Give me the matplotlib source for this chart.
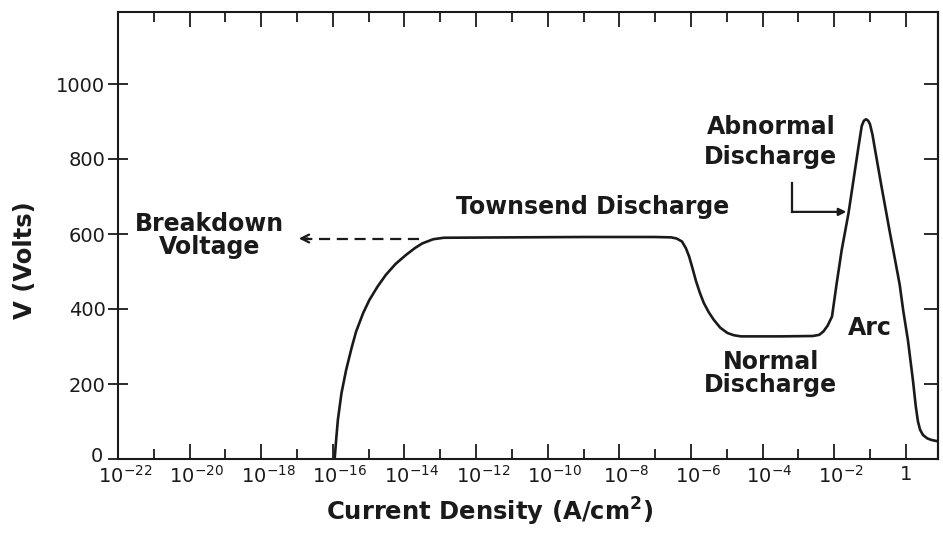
import matplotlib
matplotlib.use("Agg")
import matplotlib.pyplot as plt
import matplotlib.transforms as mtransforms
from matplotlib.ticker import FixedLocator, NullFormatter
import numpy as np

# curve: log10 of current density and voltage
log_j = [-15.95, -15.90, -15.86, -15.76, -15.63, -15.48, -15.35, -15.15, -14.98,
         -14.75, -14.52, -14.25, -13.96, -13.70, -13.50, -13.20, -12.90,
         -11.0, -9.0, -7.0, -6.55, -6.40, -6.25, -6.14, -6.05, -5.96, -5.86,
         -5.75, -5.64, -5.50, -5.36, -5.18, -4.98, -4.80, -4.60,
         -3.5, -2.6, -2.42, -2.30, -2.18, -2.06, -1.93, -1.79, -1.60, -1.46,
         -1.32, -1.23, -1.17, -1.11, -1.05, -1.00, -0.93, -0.86, -0.68, -0.44,
         -0.35, -0.17, -0.07, 0.06, 0.20, 0.28, 0.34, 0.40, 0.48, 0.60, 0.71, 0.90]
volts = [0, 60, 104, 175, 237, 295, 340, 390, 424,
         460, 491, 520, 544, 563, 575, 586, 590,
         591, 592, 592, 591, 588, 580, 562, 540, 510, 475,
         443, 416, 391, 371, 350, 336, 330, 327,
         327, 328, 331, 340, 356, 380, 468, 557, 655, 744,
         833, 888, 902, 906, 902, 893, 865, 826, 728, 602,
         557, 465, 395, 317, 210, 140, 100, 78, 64, 55, 51, 47]

major_exp = list(range(-22, 1, 2))
minor_exp = list(range(-21, 1, 2))
major_labels = [r"$\mathregular{10^{%d}}$" % e for e in major_exp[:-1]] + ["1"]
y_ticks = [0, 200, 400, 600, 800, 1000]

breakdown_v = 588

fig = plt.figure(figsize=(9.43, 5.34), dpi=100)
ax = fig.add_axes([118 / 943, 75 / 534, 820 / 943, 447 / 534])

x = 10.0 ** np.array(log_j)
ax.plot(x, volts, color="#1a1a1a", lw=1.9, solid_capstyle="round")

ax.set_xscale("log")
ax.set_xlim(1e-22, 10 ** 0.9)
ax.set_ylim(0, 1192)

ax.xaxis.set_major_locator(FixedLocator([10.0 ** e for e in major_exp]))
ax.xaxis.set_minor_locator(FixedLocator([10.0 ** e for e in minor_exp]))
ax.set_xticklabels(major_labels)
ax.xaxis.set_minor_formatter(NullFormatter())
ax.set_yticks(y_ticks)
ax.set_yticklabels([str(v) for v in y_ticks])

for s in ax.spines.values():
    s.set_linewidth(1.5)
    s.set_color("#1a1a1a")

ax.tick_params(axis="x", which="major", direction="in", length=11, width=1.3,
               top=True, bottom=True, labelsize=14, pad=4, colors="#1a1a1a")
ax.tick_params(axis="x", which="minor", direction="in", length=7, width=1.3,
               top=True, bottom=True, colors="#1a1a1a")
ax.tick_params(axis="y", which="major", direction="inout", length=14, width=1.3,
               labelsize=14, pad=2, colors="#1a1a1a")
ax.tick_params(axis="y", which="minor", left=False)

# the scan's exponent labels sit a little right of their ticks
shift = mtransforms.ScaledTranslation(7 / 100, 0, fig.dpi_scale_trans)
for lab in ax.get_xticklabels()[:-1]:
    lab.set_transform(lab.get_transform() + shift)
ylab0 = ax.get_yticklabels()[0]
ylab0.set_transform(ylab0.get_transform() +
                    mtransforms.ScaledTranslation(-3 / 100, 4 / 100, fig.dpi_scale_trans))

sec = ax.secondary_yaxis("right")
sec.set_yticks(y_ticks[1:])
sec.tick_params(direction="in", length=10, width=1.3, labelright=False, colors="#1a1a1a")
sec.spines["right"].set_linewidth(1.5)

bold = dict(fontweight="bold", color="#1a1a1a", family="DejaVu Sans")

# dashed arrow back to the breakdown voltage
ax.plot([10 ** -13.6, 10 ** -16.8], [breakdown_v, breakdown_v], color="#1a1a1a",
        lw=1.6, dashes=(5, 3))
ax.annotate("", xy=(10 ** -16.95, breakdown_v), xytext=(10 ** -16.7, breakdown_v),
            arrowprops=dict(arrowstyle="->", lw=1.6, color="#1a1a1a",
                            mutation_scale=14, shrinkA=0, shrinkB=0))

# bent arrow to the abnormal discharge branch
ax.plot([10 ** -3.18, 10 ** -3.18], [736, 659], color="#1a1a1a", lw=1.6)
ax.annotate("", xy=(10 ** -1.66, 659), xytext=(10 ** -3.18, 659),
            arrowprops=dict(arrowstyle="-|>", lw=1.6, color="#1a1a1a",
                            mutation_scale=11, shrinkA=0, shrinkB=0))

ax.text(10 ** -19.44, 595, "Breakdown\nVoltage", ha="center", va="center",
        fontsize=17, linespacing=0.95, **bold)
ax.text(10 ** -8.75, 672, "Townsend Discharge", ha="center", va="center",
        fontsize=17, **bold)
ax.text(10 ** -3.77, 845, "Abnormal\nDischarge", ha="center", va="center",
        fontsize=17, linespacing=1.3, **bold)
ax.text(10 ** -3.77, 229, "Normal\nDischarge", ha="center", va="center",
        fontsize=17, linespacing=0.95, **bold)
ax.text(10 ** -1.0, 349, "Arc", ha="center", va="center", fontsize=17, **bold)

fig.text(25 / 943, 1 - 260 / 534, "V (Volts)", rotation=90, ha="center",
         va="center", fontsize=17.5, **bold)
fig.text(490 / 943, 1 - 512 / 534, r"Current Density (A/cm$\mathbf{^2}$)",
         ha="center", va="center", fontsize=17.5, **bold)

fig.savefig("out.png", dpi=100)
